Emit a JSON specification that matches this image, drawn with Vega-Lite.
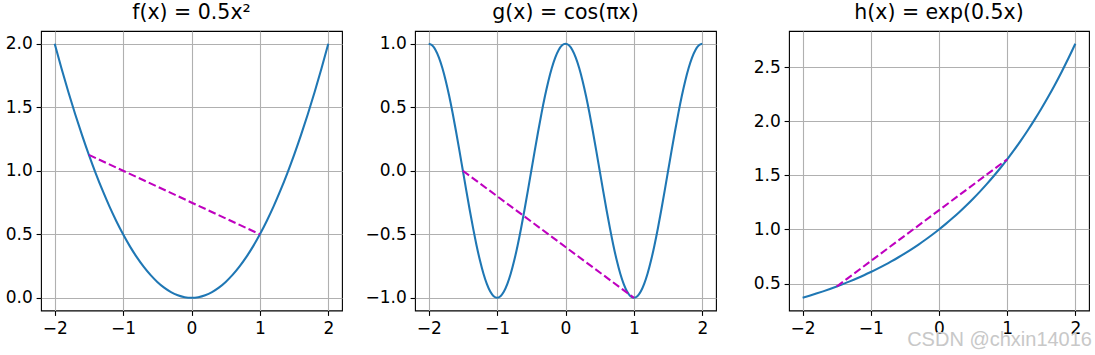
{
"$schema": "https://vega.github.io/schema/vega-lite/v6.json",
"background": "white",
"padding": {"left": 4, "top": 2, "right": 2, "bottom": 2},
"bounds": "flush",
"spacing": 73,
"config": {
  "view": {"stroke": "black", "strokeWidth": 1.1},
  "axis": {"domain": false, "grid": true, "gridColor": "#b0b0b0", "gridWidth": 1.1, "tickColor": "black", "tickWidth": 1.1, "tickSize": 4.9, "labelFont": "DejaVu Sans", "labelFontSize": 17, "labelColor": "black", "title": null},
  "axisX": {"labelPadding": 5},
  "axisY": {"labelPadding": 3.8},
  "title": {"font": "DejaVu Sans", "fontSize": 20.5, "fontWeight": "normal", "color": "black", "anchor": "middle", "baseline": "alphabetic", "offset": 7.7}
},
"datasets": {
  "f": [{"x":-2,"y":2},{"x":-1.9,"y":1.805},{"x":-1.8,"y":1.62},{"x":-1.7,"y":1.445},{"x":-1.6,"y":1.28},{"x":-1.5,"y":1.125},{"x":-1.4,"y":0.98},{"x":-1.3,"y":0.845},{"x":-1.2,"y":0.72},{"x":-1.1,"y":0.605},{"x":-1,"y":0.5},{"x":-0.9,"y":0.405},{"x":-0.8,"y":0.32},{"x":-0.7,"y":0.245},{"x":-0.6,"y":0.18},{"x":-0.5,"y":0.125},{"x":-0.4,"y":0.08},{"x":-0.3,"y":0.045},{"x":-0.2,"y":0.02},{"x":-0.1,"y":0.005},{"x":0,"y":0},{"x":0.1,"y":0.005},{"x":0.2,"y":0.02},{"x":0.3,"y":0.045},{"x":0.4,"y":0.08},{"x":0.5,"y":0.125},{"x":0.6,"y":0.18},{"x":0.7,"y":0.245},{"x":0.8,"y":0.32},{"x":0.9,"y":0.405},{"x":1,"y":0.5},{"x":1.1,"y":0.605},{"x":1.2,"y":0.72},{"x":1.3,"y":0.845},{"x":1.4,"y":0.98},{"x":1.5,"y":1.125},{"x":1.6,"y":1.28},{"x":1.7,"y":1.445},{"x":1.8,"y":1.62},{"x":1.9,"y":1.805},{"x":2,"y":2}],
  "g": [{"x":-2,"y":1},{"x":-1.95,"y":0.9877},{"x":-1.9,"y":0.9511},{"x":-1.85,"y":0.891},{"x":-1.8,"y":0.809},{"x":-1.75,"y":0.7071},{"x":-1.7,"y":0.5878},{"x":-1.65,"y":0.454},{"x":-1.6,"y":0.309},{"x":-1.55,"y":0.1564},{"x":-1.5,"y":0},{"x":-1.45,"y":-0.1564},{"x":-1.4,"y":-0.309},{"x":-1.35,"y":-0.454},{"x":-1.3,"y":-0.5878},{"x":-1.25,"y":-0.7071},{"x":-1.2,"y":-0.809},{"x":-1.15,"y":-0.891},{"x":-1.1,"y":-0.9511},{"x":-1.05,"y":-0.9877},{"x":-1,"y":-1},{"x":-0.95,"y":-0.9877},{"x":-0.9,"y":-0.9511},{"x":-0.85,"y":-0.891},{"x":-0.8,"y":-0.809},{"x":-0.75,"y":-0.7071},{"x":-0.7,"y":-0.5878},{"x":-0.65,"y":-0.454},{"x":-0.6,"y":-0.309},{"x":-0.55,"y":-0.1564},{"x":-0.5,"y":0},{"x":-0.45,"y":0.1564},{"x":-0.4,"y":0.309},{"x":-0.35,"y":0.454},{"x":-0.3,"y":0.5878},{"x":-0.25,"y":0.7071},{"x":-0.2,"y":0.809},{"x":-0.15,"y":0.891},{"x":-0.1,"y":0.9511},{"x":-0.05,"y":0.9877},{"x":0,"y":1},{"x":0.05,"y":0.9877},{"x":0.1,"y":0.9511},{"x":0.15,"y":0.891},{"x":0.2,"y":0.809},{"x":0.25,"y":0.7071},{"x":0.3,"y":0.5878},{"x":0.35,"y":0.454},{"x":0.4,"y":0.309},{"x":0.45,"y":0.1564},{"x":0.5,"y":0},{"x":0.55,"y":-0.1564},{"x":0.6,"y":-0.309},{"x":0.65,"y":-0.454},{"x":0.7,"y":-0.5878},{"x":0.75,"y":-0.7071},{"x":0.8,"y":-0.809},{"x":0.85,"y":-0.891},{"x":0.9,"y":-0.9511},{"x":0.95,"y":-0.9877},{"x":1,"y":-1},{"x":1.05,"y":-0.9877},{"x":1.1,"y":-0.9511},{"x":1.15,"y":-0.891},{"x":1.2,"y":-0.809},{"x":1.25,"y":-0.7071},{"x":1.3,"y":-0.5878},{"x":1.35,"y":-0.454},{"x":1.4,"y":-0.309},{"x":1.45,"y":-0.1564},{"x":1.5,"y":0},{"x":1.55,"y":0.1564},{"x":1.6,"y":0.309},{"x":1.65,"y":0.454},{"x":1.7,"y":0.5878},{"x":1.75,"y":0.7071},{"x":1.8,"y":0.809},{"x":1.85,"y":0.891},{"x":1.9,"y":0.9511},{"x":1.95,"y":0.9877},{"x":2,"y":1}],
  "h": [{"x":-2,"y":0.3679},{"x":-1.9,"y":0.3867},{"x":-1.8,"y":0.4066},{"x":-1.7,"y":0.4274},{"x":-1.6,"y":0.4493},{"x":-1.5,"y":0.4724},{"x":-1.4,"y":0.4966},{"x":-1.3,"y":0.522},{"x":-1.2,"y":0.5488},{"x":-1.1,"y":0.5769},{"x":-1,"y":0.6065},{"x":-0.9,"y":0.6376},{"x":-0.8,"y":0.6703},{"x":-0.7,"y":0.7047},{"x":-0.6,"y":0.7408},{"x":-0.5,"y":0.7788},{"x":-0.4,"y":0.8187},{"x":-0.3,"y":0.8607},{"x":-0.2,"y":0.9048},{"x":-0.1,"y":0.9512},{"x":0,"y":1},{"x":0.1,"y":1.0513},{"x":0.2,"y":1.1052},{"x":0.3,"y":1.1618},{"x":0.4,"y":1.2214},{"x":0.5,"y":1.284},{"x":0.6,"y":1.3499},{"x":0.7,"y":1.4191},{"x":0.8,"y":1.4918},{"x":0.9,"y":1.5683},{"x":1,"y":1.6487},{"x":1.1,"y":1.7333},{"x":1.2,"y":1.8221},{"x":1.3,"y":1.9155},{"x":1.4,"y":2.0138},{"x":1.5,"y":2.117},{"x":1.6,"y":2.2255},{"x":1.7,"y":2.3396},{"x":1.8,"y":2.4596},{"x":1.9,"y":2.5857},{"x":2,"y":2.7183}],
  "fs": [{"x":-1.5,"y":1.125},{"x":1,"y":0.5}],
  "gs": [{"x":-1.5,"y":0},{"x":1,"y":-1}],
  "hs": [{"x":-1.5,"y":0.4724},{"x":1,"y":1.6487}]
},
"hconcat": [
  {
    "width": 301, "height": 279.5,
    "title": "f(x) = 0.5x²",
    "encoding": {
      "x": {"field": "x", "type": "quantitative", "scale": {"domain": [-2.2, 2.2], "nice": false, "zero": false}, "axis": {"values": [-2,-1,0,1,2], "format": "d"}},
      "y": {"field": "y", "type": "quantitative", "scale": {"domain": [-0.1, 2.1], "nice": false, "zero": false}, "axis": {"values": [0,0.5,1,1.5,2], "format": ".1f"}}
    },
    "layer": [
      {"data": {"name": "f"}, "mark": {"type": "line", "color": "#1f77b4", "strokeWidth": 2.08, "interpolate": "monotone"}},
      {"data": {"name": "fs"}, "mark": {"type": "line", "color": "#bf00bf", "strokeWidth": 2.08, "strokeDash": [7.7, 3.3]}}
    ]
  },
  {
    "width": 301, "height": 279.5,
    "title": "g(x) = cos(πx)",
    "encoding": {
      "x": {"field": "x", "type": "quantitative", "scale": {"domain": [-2.2, 2.2], "nice": false, "zero": false}, "axis": {"values": [-2,-1,0,1,2], "format": "d"}},
      "y": {"field": "y", "type": "quantitative", "scale": {"domain": [-1.1, 1.1], "nice": false, "zero": false}, "axis": {"values": [-1,-0.5,0,0.5,1], "format": ".1f"}}
    },
    "layer": [
      {"data": {"name": "g"}, "mark": {"type": "line", "color": "#1f77b4", "strokeWidth": 2.08, "interpolate": "monotone"}},
      {"data": {"name": "gs"}, "mark": {"type": "line", "color": "#bf00bf", "strokeWidth": 2.08, "strokeDash": [7.7, 3.3]}}
    ]
  },
  {
    "width": 300, "height": 279.5,
    "title": "h(x) = exp(0.5x)",
    "layer": [
      {"data": {"name": "h"}, "mark": {"type": "line", "color": "#1f77b4", "strokeWidth": 2.08, "interpolate": "monotone"},
       "encoding": {
        "x": {"field": "x", "type": "quantitative", "scale": {"domain": [-2.2, 2.2], "nice": false, "zero": false}, "axis": {"values": [-2,-1,0,1,2], "format": "d"}},
        "y": {"field": "y", "type": "quantitative", "scale": {"domain": [0.2504, 2.8358], "nice": false, "zero": false}, "axis": {"values": [0.5,1,1.5,2,2.5], "format": ".1f"}}
       }},
      {"data": {"name": "hs"}, "mark": {"type": "line", "color": "#bf00bf", "strokeWidth": 2.08, "strokeDash": [7.7, 3.3]},
       "encoding": {
        "x": {"field": "x", "type": "quantitative"},
        "y": {"field": "y", "type": "quantitative"}
       }},
      {"data": {"values": [{"t": "CSDN @chxin14016"}]}, "mark": {"type": "text", "align": "right", "baseline": "alphabetic", "font": "Liberation Sans", "fontSize": 20, "color": "#c8c8c8"},
       "encoding": {"x": {"datum": 2.244, "type": "quantitative"}, "y": {"datum": -0.074, "type": "quantitative"}, "text": {"field": "t"}}}
    ]
  }
]
}
